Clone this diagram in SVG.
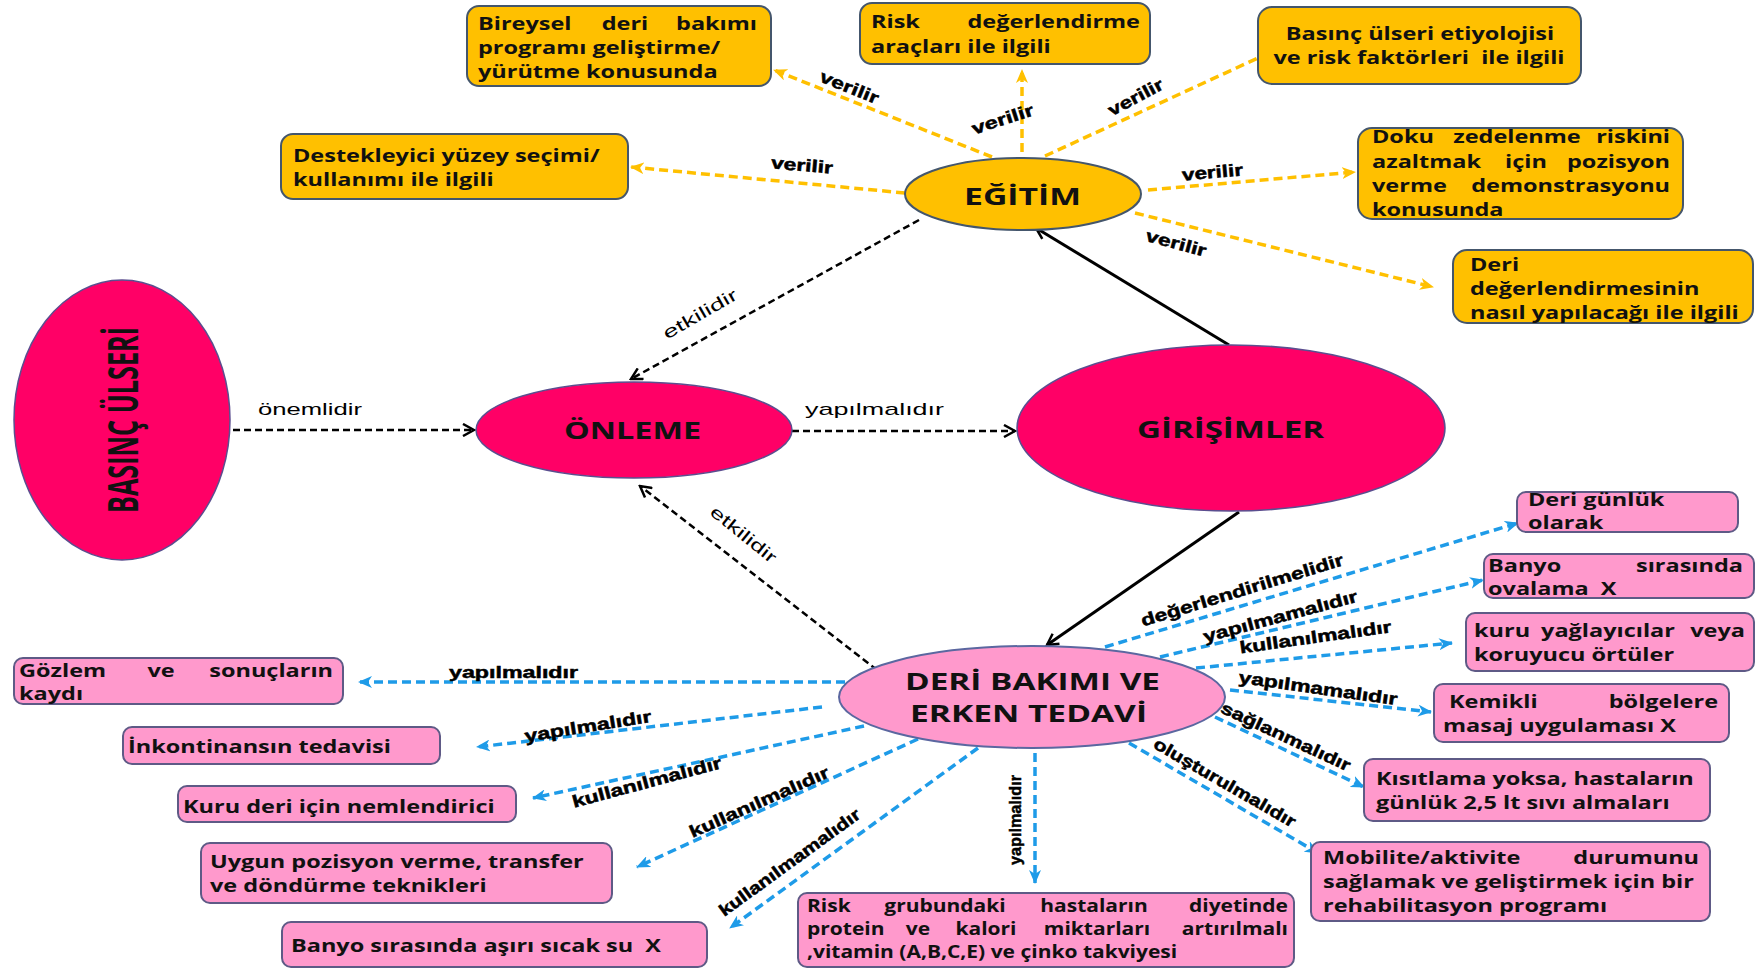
<svg xmlns="http://www.w3.org/2000/svg" width="1756" height="968" viewBox="0 0 1756 968">
  <defs>
    <style>
      .yb { fill: #FFC000; stroke: #44566C; stroke-width: 2; }
      .pb { fill: #FF99CC; stroke: #5E5A86; stroke-width: 2; }
      .mg { fill: #FF0066; stroke: #5B4E8F; stroke-width: 1.5; }
      .bt { font-family: "Open Sans", "Noto Sans", sans-serif; font-weight: 700; font-size: 18.5px; fill: #111; }
      .bs { font-family: "Open Sans", "Noto Sans", sans-serif; font-weight: 700; font-size: 17.5px; fill: #111; }
      .e { text-anchor: end; }
      .m { text-anchor: middle; }
      .nt { font-family: "Open Sans", "Noto Sans", sans-serif; font-weight: 700; fill: #111; }
      .lb { font-family: "Liberation Sans", Arial, sans-serif; font-weight: 700; font-size: 17px; fill: #000; stroke: #000; stroke-width: 0.5; }
      .lr { font-family: "Liberation Sans", Arial, sans-serif; font-weight: 400; font-size: 17px; fill: #000; }
      .cy { stroke: #FFC000; stroke-width: 3.5; stroke-dasharray: 9 5; fill: none; }
      .cb { stroke: #1E9BE8; stroke-width: 3.5; stroke-dasharray: 9 5; fill: none; }
      .kd { stroke: #000; stroke-width: 2.5; stroke-dasharray: 7 4; fill: none; }
      .ks { stroke: #000; stroke-width: 3; fill: none; }
    </style>
    <marker id="ay" viewBox="0 0 14 12" refX="13" refY="6" markerWidth="14" markerHeight="12" markerUnits="userSpaceOnUse" orient="auto">
      <path d="M0,0 L14,6 L0,12 L4,6 Z" fill="#FFC000"/>
    </marker>
    <marker id="ab" viewBox="0 0 14 12" refX="13" refY="6" markerWidth="14" markerHeight="12" markerUnits="userSpaceOnUse" orient="auto">
      <path d="M0,0 L14,6 L0,12 L4,6 Z" fill="#1E9BE8"/>
    </marker>
    <marker id="ak" viewBox="0 0 14 14" refX="12" refY="7" markerWidth="14" markerHeight="14" markerUnits="userSpaceOnUse" orient="auto">
      <path d="M1,1 L12,7 L1,13" fill="none" stroke="#000" stroke-width="2.5"/>
    </marker>
  </defs>

  <rect width="1756" height="968" fill="#fff"/>

  <!-- connectors and their labels -->
  <g id="connectors">
    <!-- EĞİTİM outputs -->
    <line class="cy" x1="992" y1="157" x2="774" y2="70" marker-end="url(#ay)"/>
    <line class="cy" x1="1022" y1="152" x2="1022" y2="70" marker-end="url(#ay)"/>
    <line class="cy" x1="1045" y1="156" x2="1258" y2="58"/>
    <line class="cy" x1="905" y1="193" x2="631" y2="167" marker-end="url(#ay)"/>
    <line class="cy" x1="1148" y1="190" x2="1355" y2="172" marker-end="url(#ay)"/>
    <line class="cy" x1="1135" y1="213" x2="1433" y2="287" marker-end="url(#ay)"/>

    <!-- main flow -->
    <line class="ks" x1="1229" y1="345" x2="1036" y2="228" marker-end="url(#ak)"/>
    <line class="ks" x1="1239" y1="512" x2="1047" y2="645" marker-end="url(#ak)"/>
    <line class="kd" x1="919" y1="220" x2="631" y2="379" marker-end="url(#ak)"/>
    <line class="kd" x1="877" y1="670" x2="640" y2="486" marker-end="url(#ak)"/>
    <line class="kd" x1="233" y1="430" x2="474" y2="430" marker-end="url(#ak)"/>
    <line class="kd" x1="792" y1="431" x2="1015" y2="431" marker-end="url(#ak)"/>

    <!-- DERİ BAKIMI outputs -->
    <line class="cb" x1="1105" y1="647" x2="1518" y2="523" marker-end="url(#ab)"/>
    <line class="cb" x1="1160" y1="657" x2="1483" y2="580" marker-end="url(#ab)"/>
    <line class="cb" x1="1196" y1="668" x2="1452" y2="643" marker-end="url(#ab)"/>
    <line class="cb" x1="1230" y1="690" x2="1431" y2="712" marker-end="url(#ab)"/>
    <line class="cb" x1="1215" y1="717" x2="1364" y2="787" marker-end="url(#ab)"/>
    <line class="cb" x1="1129" y1="743" x2="1318" y2="853" marker-end="url(#ab)"/>
    <line class="cb" x1="1035" y1="753" x2="1035" y2="883" marker-end="url(#ab)"/>
    <line class="cb" x1="845" y1="682" x2="359" y2="682" marker-end="url(#ab)"/>
    <line class="cb" x1="822" y1="707" x2="477" y2="747" marker-end="url(#ab)"/>
    <line class="cb" x1="864" y1="726" x2="533" y2="798" marker-end="url(#ab)"/>
    <line class="cb" x1="918" y1="739" x2="637" y2="867" marker-end="url(#ab)"/>
    <line class="cb" x1="978" y1="748" x2="730" y2="928" marker-end="url(#ab)"/>

    <!-- labels -->
    <text class="lb" transform="translate(849 88) rotate(22)" x="-31" y="5" font-size="15" textLength="62" lengthAdjust="spacingAndGlyphs">verilir</text>
    <text class="lb" transform="translate(1003 120) rotate(-18)" x="-32" y="5" font-size="15" textLength="64" lengthAdjust="spacingAndGlyphs">verilir</text>
    <text class="lb" transform="translate(1136 98) rotate(-28)" x="-30" y="5" font-size="15" textLength="60" lengthAdjust="spacingAndGlyphs">verilir</text>
    <text class="lb" transform="translate(802 166) rotate(5)" x="-31" y="5" font-size="15" textLength="62" lengthAdjust="spacingAndGlyphs">verilir</text>
    <text class="lb" transform="translate(1213 173) rotate(-5)" x="-31" y="5" font-size="15" textLength="61" lengthAdjust="spacingAndGlyphs">verilir</text>
    <text class="lb" transform="translate(1176 244) rotate(15)" x="-31" y="5" font-size="15" textLength="62" lengthAdjust="spacingAndGlyphs">verilir</text>

    <text class="lr" transform="translate(700 315) rotate(-30)" x="-41" y="5" font-size="16" textLength="83" lengthAdjust="spacingAndGlyphs">etkilidir</text>
    <text class="lr" transform="translate(743 535) rotate(39)" x="-40" y="5" font-size="16" textLength="80" lengthAdjust="spacingAndGlyphs">etkilidir</text>
    <text class="lr" x="258" y="415" textLength="104" lengthAdjust="spacingAndGlyphs">önemlidir</text>
    <text class="lr" x="805" y="415" textLength="139" lengthAdjust="spacingAndGlyphs">yapılmalıdır</text>

    <text class="lb" transform="translate(1242 591) rotate(-17)" x="-105" y="5" textLength="211" lengthAdjust="spacingAndGlyphs">değerlendirilmelidir</text>
    <text class="lb" transform="translate(1281 617) rotate(-15)" x="-80" y="5" textLength="159" lengthAdjust="spacingAndGlyphs">yapılmamalıdır</text>
    <text class="lb" transform="translate(1315 638) rotate(-8)" x="-76" y="5" textLength="153" lengthAdjust="spacingAndGlyphs">kullanılmalıdır</text>
    <text class="lb" transform="translate(1318 689) rotate(8)" x="-80" y="5" textLength="160" lengthAdjust="spacingAndGlyphs">yapılmamalıdır</text>
    <text class="lb" transform="translate(1285 737) rotate(25)" x="-70" y="5" textLength="141" lengthAdjust="spacingAndGlyphs">sağlanmalıdır</text>
    <text class="lb" transform="translate(1224 783) rotate(30)" x="-80" y="5" textLength="161" lengthAdjust="spacingAndGlyphs">oluşturulmalıdır</text>
    <text class="lb" transform="translate(1015 820) rotate(-90)" x="-45" y="6" font-size="18" textLength="90" lengthAdjust="spacingAndGlyphs">yapılmalıdır</text>
    <text class="lb" transform="translate(513 673)" x="-64" y="5" textLength="129" lengthAdjust="spacingAndGlyphs">yapılmalıdır</text>
    <text class="lb" transform="translate(588 727) rotate(-9)" x="-64" y="5" textLength="128" lengthAdjust="spacingAndGlyphs">yapılmalıdır</text>
    <text class="lb" transform="translate(647 783) rotate(-15)" x="-77" y="5" textLength="154" lengthAdjust="spacingAndGlyphs">kullanılmalıdır</text>
    <text class="lb" transform="translate(759 803) rotate(-24)" x="-75" y="5" textLength="151" lengthAdjust="spacingAndGlyphs">kullanılmalıdır</text>
    <text class="lb" transform="translate(790 863) rotate(-36)" x="-85" y="5" textLength="170" lengthAdjust="spacingAndGlyphs">kullanılmamalıdır</text>
  </g>

  <!-- central nodes -->
  <g id="basinc-ulseri">
    <ellipse class="mg" cx="122" cy="420" rx="108" ry="140"/>
    <text class="nt" transform="translate(138 513) rotate(-90)" font-size="42" textLength="186" lengthAdjust="spacingAndGlyphs">BASINÇ ÜLSERİ</text>
  </g>
  <g id="onleme">
    <ellipse class="mg" cx="634" cy="430" rx="158" ry="48"/>
    <text class="nt" x="564" y="439" font-size="23" textLength="137" lengthAdjust="spacingAndGlyphs">ÖNLEME</text>
  </g>
  <g id="girisimler">
    <ellipse class="mg" cx="1231" cy="428" rx="214" ry="83"/>
    <text class="nt" x="1137" y="438" font-size="24" textLength="187" lengthAdjust="spacingAndGlyphs">GİRİŞİMLER</text>
  </g>
  <g id="egitim">
    <ellipse cx="1023" cy="194" rx="118" ry="36" fill="#FFC000" stroke="#44566C" stroke-width="2"/>
    <text class="nt" x="964" y="205" font-size="24" textLength="117" lengthAdjust="spacingAndGlyphs">EĞİTİM</text>
  </g>
  <g id="deri-bakimi">
    <ellipse cx="1032" cy="697" rx="193" ry="51" fill="#FF99CC" stroke="#5B67A0" stroke-width="2"/>
    <text class="nt" x="905" y="690" font-size="23.5" textLength="255" lengthAdjust="spacingAndGlyphs">DERİ BAKIMI VE</text>
    <text class="nt" x="910" y="722" font-size="23.5" textLength="237" lengthAdjust="spacingAndGlyphs">ERKEN TEDAVİ</text>
  </g>

  <!-- education topics -->
  <g id="egitim-bireysel">
    <rect class="yb" x="467" y="6" width="304" height="80" rx="12"/>
    <text class="bt" transform="translate(478 30) scale(1.27 1)">Bireysel</text>
    <text class="bt m" transform="translate(625 30) scale(1.27 1)">deri</text>
    <text class="bt e" transform="translate(757 30) scale(1.27 1)">bakımı</text>
    <text class="bt" transform="translate(478 54) scale(1.27 1)">programı geliştirme/</text>
    <text class="bt" transform="translate(478 78) scale(1.27 1)">yürütme konusunda</text>
  </g>
  <g id="egitim-risk">
    <rect class="yb" x="860" y="3" width="290" height="61" rx="12"/>
    <text class="bt" transform="translate(871 28) scale(1.27 1)">Risk</text>
    <text class="bt e" transform="translate(1140 28) scale(1.27 1)">değerlendirme</text>
    <text class="bt" transform="translate(871 53) scale(1.27 1)">araçları ile ilgili</text>
  </g>
  <g id="egitim-etiyoloji">
    <rect class="yb" x="1258" y="7" width="323" height="77" rx="14"/>
    <text class="bt m" transform="translate(1420 40) scale(1.27 1)">Basınç ülseri etiyolojisi</text>
    <text class="bt m" transform="translate(1419 64) scale(1.27 1)">ve risk faktörleri&#160; ile ilgili</text>
  </g>
  <g id="egitim-yuzey">
    <rect class="yb" x="281" y="134" width="347" height="65" rx="12"/>
    <text class="bt" transform="translate(293 162) scale(1.27 1)">Destekleyici yüzey seçimi/</text>
    <text class="bt" transform="translate(293 186) scale(1.27 1)">kullanımı ile ilgili</text>
  </g>
  <g id="egitim-pozisyon">
    <rect class="yb" x="1358" y="128" width="325" height="91" rx="14"/>
    <text class="bt" transform="translate(1372 143) scale(1.27 1)">Doku</text>
    <text class="bt m" transform="translate(1517 143) scale(1.27 1)">zedelenme</text>
    <text class="bt e" transform="translate(1670 143) scale(1.27 1)">riskini</text>
    <text class="bt" transform="translate(1372 168) scale(1.27 1)">azaltmak</text>
    <text class="bt m" transform="translate(1526 168) scale(1.27 1)">için</text>
    <text class="bt e" transform="translate(1670 168) scale(1.27 1)">pozisyon</text>
    <text class="bt" transform="translate(1372 192) scale(1.27 1)">verme</text>
    <text class="bt e" transform="translate(1670 192) scale(1.27 1)">demonstrasyonu</text>
    <text class="bt" transform="translate(1372 216) scale(1.27 1)">konusunda</text>
  </g>
  <g id="egitim-deri">
    <rect class="yb" x="1453" y="250" width="300" height="73" rx="14"/>
    <text class="bt" transform="translate(1470 271) scale(1.27 1)">Deri</text>
    <text class="bt" transform="translate(1470 295) scale(1.27 1)">değerlendirmesinin</text>
    <text class="bt" transform="translate(1470 319) scale(1.27 1)">nasıl yapılacağı ile ilgili</text>
  </g>

  <!-- care items -->
  <g id="bakim-gunluk">
    <rect class="pb" x="1517" y="492" width="221" height="40" rx="9"/>
    <text class="bt" transform="translate(1528 506) scale(1.27 1)">Deri günlük</text>
    <text class="bt" transform="translate(1528 529) scale(1.27 1)">olarak</text>
  </g>
  <g id="bakim-ovalama">
    <rect class="pb" x="1484" y="554" width="270" height="44" rx="9"/>
    <text class="bt" transform="translate(1488 572) scale(1.27 1)">Banyo</text>
    <text class="bt e" transform="translate(1743 572) scale(1.27 1)">sırasında</text>
    <text class="bt" transform="translate(1488 595) scale(1.27 1)">ovalama&#160; X</text>
  </g>
  <g id="bakim-yaglayici">
    <rect class="pb" x="1466" y="613" width="288" height="58" rx="9"/>
    <text class="bt" transform="translate(1474 637) scale(1.27 1)">kuru</text>
    <text class="bt m" transform="translate(1608 637) scale(1.27 1)">yağlayıcılar</text>
    <text class="bt e" transform="translate(1745 637) scale(1.27 1)">veya</text>
    <text class="bt" transform="translate(1474 661) scale(1.27 1)">koruyucu örtüler</text>
  </g>
  <g id="bakim-masaj">
    <rect class="pb" x="1434" y="684" width="295" height="58" rx="9"/>
    <text class="bt" transform="translate(1449 708) scale(1.27 1)">Kemikli</text>
    <text class="bt e" transform="translate(1718 708) scale(1.27 1)">bölgelere</text>
    <text class="bt" transform="translate(1443 732) scale(1.27 1)">masaj uygulaması X</text>
  </g>
  <g id="bakim-sivi">
    <rect class="pb" x="1364" y="759" width="346" height="62" rx="9"/>
    <text class="bt" transform="translate(1376 785) scale(1.27 1)">Kısıtlama yoksa, hastaların</text>
    <text class="bt" transform="translate(1376 809) scale(1.27 1)">günlük 2,5 lt sıvı almaları</text>
  </g>
  <g id="bakim-mobilite">
    <rect class="pb" x="1311" y="842" width="399" height="79" rx="9"/>
    <text class="bt" transform="translate(1323 864) scale(1.27 1)">Mobilite/aktivite</text>
    <text class="bt e" transform="translate(1699 864) scale(1.27 1)">durumunu</text>
    <text class="bt" transform="translate(1323 888) scale(1.27 1)">sağlamak ve geliştirmek için bir</text>
    <text class="bt" transform="translate(1323 912) scale(1.27 1)">rehabilitasyon programı</text>
  </g>
  <g id="bakim-diyet">
    <rect class="pb" x="798" y="893" width="496" height="74" rx="9"/>
    <text class="bs" transform="translate(807 912) scale(1.2 1)">Risk</text>
    <text class="bs m" transform="translate(945 912) scale(1.2 1)">grubundaki</text>
    <text class="bs m" transform="translate(1094 912) scale(1.2 1)">hastaların</text>
    <text class="bs e" transform="translate(1288 912) scale(1.2 1)">diyetinde</text>
    <text class="bs" transform="translate(807 935) scale(1.2 1)">protein</text>
    <text class="bs m" transform="translate(918 935) scale(1.2 1)">ve</text>
    <text class="bs m" transform="translate(986 935) scale(1.2 1)">kalori</text>
    <text class="bs m" transform="translate(1097 935) scale(1.2 1)">miktarları</text>
    <text class="bs e" transform="translate(1288 935) scale(1.2 1)">artırılmalı</text>
    <text class="bs" transform="translate(807 958) scale(1.2 1)">,vitamin (A,B,C,E) ve çinko takviyesi</text>
  </g>
  <g id="bakim-gozlem">
    <rect class="pb" x="14" y="658" width="329" height="46" rx="9"/>
    <text class="bt" transform="translate(19 677) scale(1.27 1)">Gözlem</text>
    <text class="bt m" transform="translate(161 677) scale(1.27 1)">ve</text>
    <text class="bt e" transform="translate(333 677) scale(1.27 1)">sonuçların</text>
    <text class="bt" transform="translate(19 700) scale(1.27 1)">kaydı</text>
  </g>
  <g id="bakim-inkontinans">
    <rect class="pb" x="123" y="727" width="317" height="37" rx="9"/>
    <text class="bt" transform="translate(128 753) scale(1.27 1)">İnkontinansın tedavisi</text>
  </g>
  <g id="bakim-nemlendirici">
    <rect class="pb" x="178" y="786" width="338" height="36" rx="9"/>
    <text class="bt" transform="translate(183 813) scale(1.27 1)">Kuru deri için nemlendirici</text>
  </g>
  <g id="bakim-pozisyon">
    <rect class="pb" x="201" y="843" width="411" height="60" rx="9"/>
    <text class="bt" transform="translate(210 868) scale(1.27 1)">Uygun pozisyon verme, transfer</text>
    <text class="bt" transform="translate(210 892) scale(1.27 1)">ve döndürme teknikleri</text>
  </g>
  <g id="bakim-sicak-su">
    <rect class="pb" x="282" y="922" width="425" height="45" rx="9"/>
    <text class="bt" transform="translate(291 952) scale(1.27 1)">Banyo sırasında aşırı sıcak su&#160; X</text>
  </g>
</svg>
